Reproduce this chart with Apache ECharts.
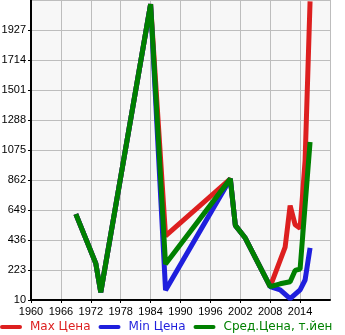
<!DOCTYPE html>
<html>
<head>
<meta charset="utf-8">
<script src="https://cdn.jsdelivr.net/npm/echarts@6/dist/echarts.min.js"></script>
<style>
  html, body { margin: 0; padding: 0; background: #fff; }
  #chart { width: 345px; height: 335px; }
</style>
</head>
<body>
<div id="chart"></div>
<script>
// price history, year -> value
var maxYears = [1969, 1973, 1974, 1984, 1987, 2000, 2001, 2003, 2008, 2011, 2012, 2013, 2014, 2015, 2016];
var maxVals  = [620, 270, 65, 2110, 465, 870, 540, 450, 105, 386, 680, 545, 520, 1000, 2130];
var minYears = [1969, 1973, 1974, 1984, 1987, 2000, 2001, 2003, 2008, 2010, 2012, 2014, 2015, 2016];
var minVals  = [620, 270, 65, 2110, 80, 870, 540, 450, 105, 82, 20, 82, 152, 380];
var avgYears = [1969, 1973, 1974, 1984, 1987, 2000, 2001, 2003, 2008, 2010, 2012, 2013, 2014, 2016];
var avgVals  = [620, 270, 65, 2110, 265, 870, 540, 450, 105, 125, 140, 220, 230, 1132];
var names = ['Max Цена', 'Min Цена', 'Сред.Цена, т.йен'];
var colors = ['#dd1f1f', '#1f1fdd', '#008000'];

function pairs(xs, ys) {
    var out = [];
    for (var i = 0; i < xs.length; i++) out.push([xs[i], ys[i]]);
    return out;
}

var font = 'Liberation Sans, Arial, sans-serif';
var chart = echarts.init(document.getElementById('chart'));
chart.setOption({
    animation: false,
    grid: {
        left: 31, right: 15, top: 0, bottom: 35,
        outerBoundsMode: 'none', containLabel: false,
        show: true, backgroundColor: '#f7f7f7', borderWidth: 0
    },
    legend: {
        left: 0, top: 321, padding: 0,
        itemWidth: 22, itemHeight: 5, itemGap: 8,
        icon: 'path://M2,0 L20,0 A2,2 0 0 1 20,4 L2,4 A2,2 0 0 1 2,0 Z',
        textStyle: { fontSize: 12, fontFamily: 'DejaVu Sans', padding: [0, 0, 0, 3] },
        data: names.map(function (n, i) {
            return { name: n, textStyle: { color: colors[i] } };
        })
    },
    xAxis: {
        type: 'value', min: 1960, max: 2020, interval: 6,
        axisLine: { lineStyle: { color: '#000', width: 2 } },
        axisTick: { show: true, length: 3, lineStyle: { color: '#000' } },
        axisLabel: {
            color: '#000', fontSize: 11, fontFamily: font, margin: 6, showMaxLabel: false,
            formatter: function (v) { return String(v); }
        },
        splitLine: { show: true, lineStyle: { color: '#bdbdbd', width: 1 } }
    },
    yAxis: {
        type: 'value', min: 10, max: 2140, interval: 213,
        axisLine: { show: true, lineStyle: { color: '#000', width: 2 } },
        axisTick: { show: true, length: 3, lineStyle: { color: '#000' } },
        axisLabel: {
            color: '#000', fontSize: 11, fontFamily: font, margin: 5, showMaxLabel: false,
            formatter: function (v) { return String(v); }
        },
        splitLine: { show: true, lineStyle: { color: '#bdbdbd', width: 1 } }
    },
    series: [
        { name: names[0], type: 'line', data: pairs(maxYears, maxVals) },
        { name: names[1], type: 'line', data: pairs(minYears, minVals) },
        { name: names[2], type: 'line', data: pairs(avgYears, avgVals) }
    ].map(function (s, i) {
        s.showSymbol = false;
        s.symbol = 'none';
        s.color = colors[i];
        s.lineStyle = { color: colors[i], width: 5 };
        return s;
    })
});
</script>
</body>
</html>
